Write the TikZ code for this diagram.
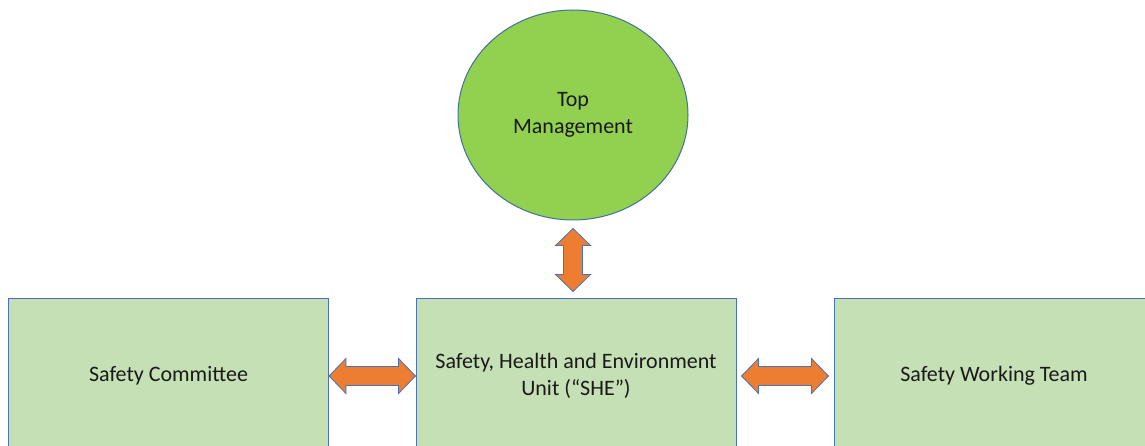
\documentclass[tikz,border=0pt]{standalone}
\usepackage{fontspec}
\setmainfont{Carlito}
\usetikzlibrary{shapes.geometric,calc}

\newcommand{\dblarrowH}[2]{%
  \draw[blockarrow] (#1) -- ($(#1)+(17,-17.5)$) -- ($(#1)+(17,-9.5)$) -- ($(#2)+(-17,-9.5)$)
    -- ($(#2)+(-17,-17.5)$) -- (#2) -- ($(#2)+(-17,17.5)$) -- ($(#2)+(-17,9.5)$)
    -- ($(#1)+(17,9.5)$) -- ($(#1)+(17,17.5)$) -- cycle;}
\newcommand{\dblarrowV}[2]{%
  \draw[blockarrow] (#1) -- ($(#1)+(-17.5,17)$) -- ($(#1)+(-9.5,17)$) -- ($(#2)+(-9.5,-17)$)
    -- ($(#2)+(-17.5,-17)$) -- (#2) -- ($(#2)+(17.5,-17)$) -- ($(#2)+(9.5,-17)$)
    -- ($(#1)+(9.5,17)$) -- ($(#1)+(17.5,17)$) -- cycle;}

\begin{document}
\begin{tikzpicture}[x=1pt,y=-1pt,font=\fontsize{22}{27}\selectfont]
   \definecolor{topgreen}{HTML}{92D050}
   \definecolor{boxgreen}{HTML}{C5E0B4}
   \definecolor{edgeblue}{HTML}{4A72B8}
   \definecolor{ringblue}{HTML}{41719C}
   \definecolor{arroworange}{HTML}{ED7D31}
   \definecolor{textdark}{HTML}{1A1A1A}
   \tikzset{
      boxnode/.style={draw=edgeblue,fill=boxgreen,line width=1,minimum width=320,minimum height=156,
         inner sep=0,align=center,text=textdark},
      topnode/.style={ellipse,draw=ringblue,fill=topgreen,line width=1,minimum width=230,minimum height=210,
         inner sep=0,align=center,text=textdark},
      blockarrow/.style={draw=edgeblue,fill=arroworange,line width=0.8,line join=miter}
   }
   \useasboundingbox (0,0) rectangle (1145,446);
   \begin{scope}
   \clip (0,0) rectangle (1145,446);
   \node[topnode] (tm) at (573,115) {Top\\Management};
   \node[boxnode] (sc)  at (168.5,376) {Safety Committee};
   \node[boxnode] (she) at (576,376) {Safety, Health and Environment\\Unit (“SHE”)};
   \node[boxnode] (swt) at (994,376) {Safety Working Team};
   \end{scope}
   % arrows between the units
   \coordinate (v1) at ($(tm.south)+(0,8)$);
   \coordinate (v2) at ($(v1 |- she.north)+(0,-6)$);
   \dblarrowV{v1}{v2}
   \dblarrowH{sc.east}{she.west}
   \coordinate (h1) at ($(she.east)+(5,0)$);
   \coordinate (h2) at ($(swt.west)+(-5,0)$);
   \dblarrowH{h1}{h2}
\end{tikzpicture}
\end{document}
